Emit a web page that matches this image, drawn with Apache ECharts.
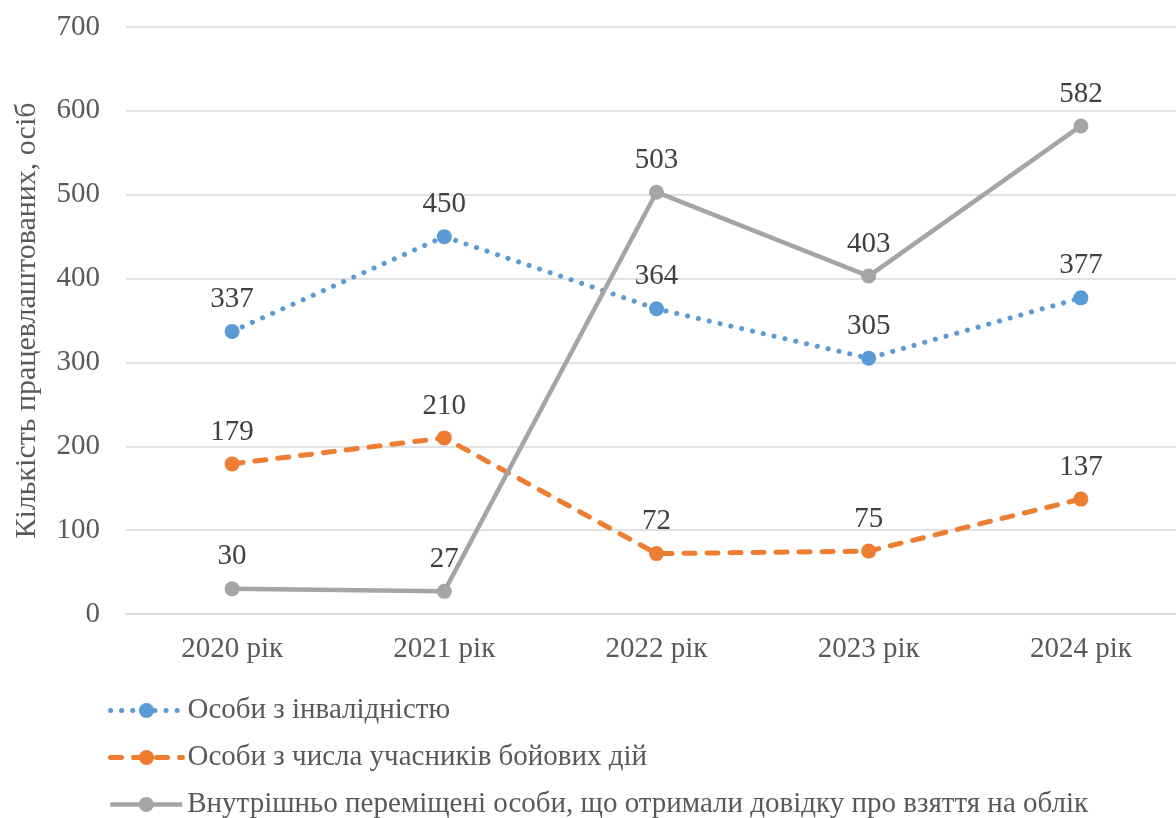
<!DOCTYPE html>
<html><head><meta charset="utf-8">
<script src="https://cdn.jsdelivr.net/npm/echarts@6/dist/echarts.min.js"></script>
<style>html,body{margin:0;padding:0;background:#fff}#c{width:1176px;height:818px}</style>
</head><body><div id="c"></div>
<script>
const categories = ['2020 рік','2021 рік','2022 рік','2023 рік','2024 рік'];
const seriesNames = ['Особи з інвалідністю','Особи з числа учасників бойових дій','Внутрішньо переміщені особи, що отримали довідку про взяття на облік'];
const disabled = [337,450,364,305,377];
const combatants = [179,210,72,75,137];
const idps = [30,27,503,403,582];
const yAxisName = 'Кількість працевлаштованих, осіб';

const FONT = '"Liberation Serif","Times New Roman",serif';
const TXT = '#595959';
const styles = [
  {color:'#5B9BD5', type:[0.1,11], cap:'round', width:5},
  {color:'#ED7D31', type:[11,12], cap:'round', width:5},
  {color:'#A5A5A5', type:'solid', cap:'butt', width:4.5}
];
const chart = echarts.init(document.getElementById('c'));
function mk(i, data){
  const s = styles[i];
  return {
    name:seriesNames[i], type:'line', data,
    symbol:'circle', symbolSize:15,
    itemStyle:{color:s.color},
    lineStyle:{color:s.color, width:s.width, type:s.type, cap:s.cap},
    label:{show:true, position:'top', distance:10, color:'#404040', fontFamily:FONT, fontSize:29},
    emphasis:{disabled:true}, animation:false
  };
}
function lg(i, top){
  const s = styles[i];
  return {
    orient:'vertical', left:103, top, itemWidth:72, itemHeight:19,
    textStyle:{color:TXT, fontFamily:FONT, fontSize:29},
    lineStyle:{width:s.width, type:s.type, cap:s.cap},
    data:[seriesNames[i]]
  };
}
chart.setOption({
  animation:false,
  grid:{left:126, right:-11, top:27, bottom:204, containLabel:false, outerBoundsMode:'none'},
  legend:[lg(0,691), lg(1,738), lg(2,785)],
  xAxis:{
    type:'category', data:categories, boundaryGap:true,
    axisLine:{show:true, lineStyle:{color:'#d9d9d9', width:1.5}},
    axisTick:{show:false},
    axisLabel:{color:TXT, fontFamily:FONT, fontSize:29, margin:21}
  },
  yAxis:{
    type:'value', min:0, max:700, interval:100,
    name:yAxisName, nameLocation:'middle', nameGap:84, nameRotate:90,
    nameTextStyle:{color:TXT, fontFamily:FONT, fontSize:30},
    axisLine:{show:false}, axisTick:{show:false},
    splitLine:{lineStyle:{color:'#d9d9d9', width:1.5}},
    axisLabel:{color:TXT, fontFamily:FONT, fontSize:29, margin:26}
  },
  series:[ mk(0, disabled), mk(1, combatants), mk(2, idps) ]
});
</script></body></html>
